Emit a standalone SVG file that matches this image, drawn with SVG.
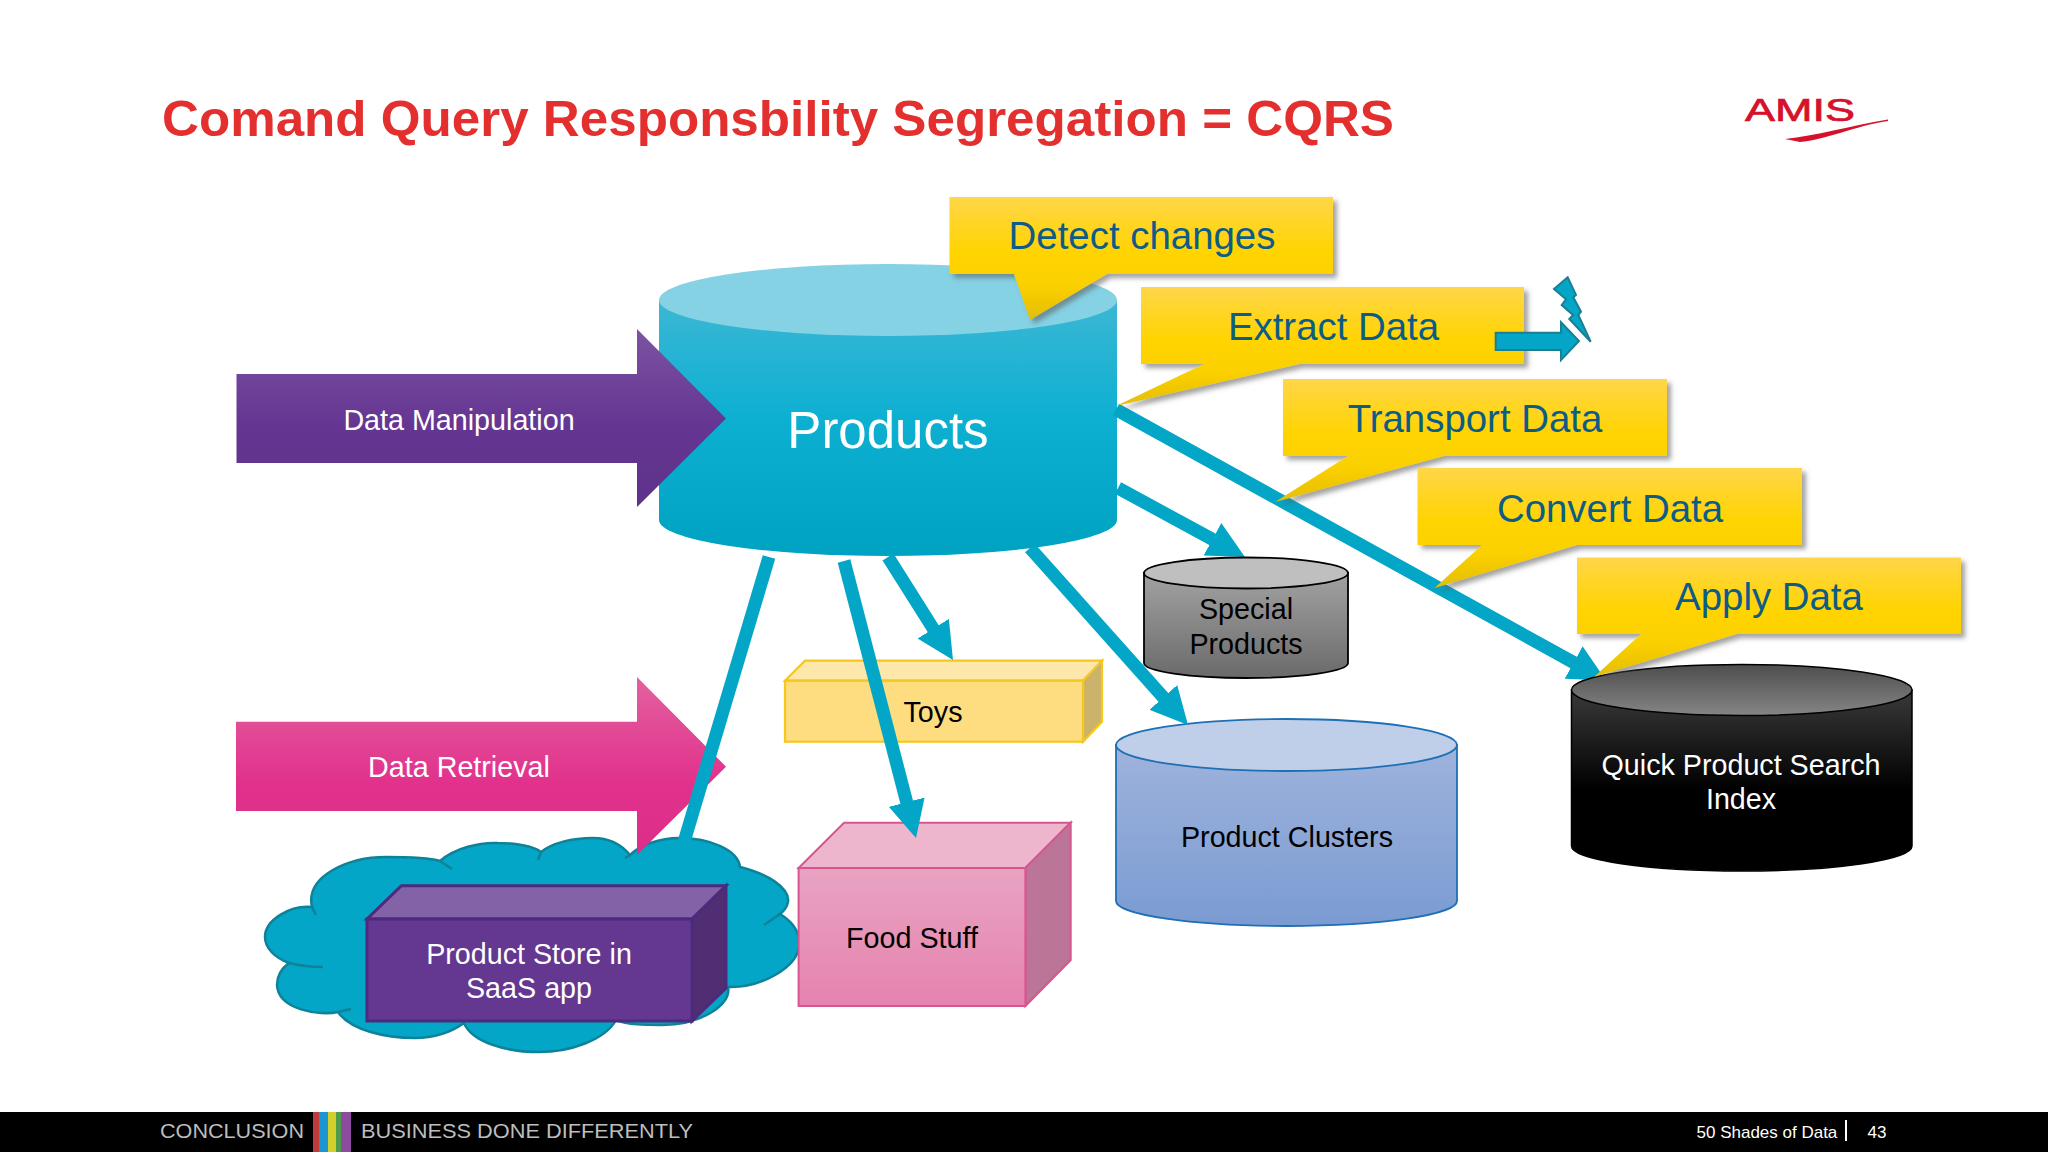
<svg xmlns="http://www.w3.org/2000/svg" width="2048" height="1152" viewBox="0 0 2048 1152">
<style>
text{font-family:"Liberation Sans",Arial,sans-serif;text-anchor:middle}
.lbl{font-size:28.7px}
.w{fill:#fff}
.k{fill:#000}
.co{font-size:38.4px;fill:#0d5c85}
.callout{fill:url(#gCallout);filter:url(#shadow)}
.conn{fill:none;stroke:#03a6c6;stroke-width:13;marker-end:url(#head)}
</style>
<defs>
<marker id="head" markerUnits="userSpaceOnUse" viewBox="0 0 37 37" refX="2" refY="18.5" markerWidth="37" markerHeight="37" orient="auto"><polygon points="0,0 37,18.5 0,37" fill="#03a6c6"/></marker>
<filter id="shadow" x="-10%" y="-10%" width="125%" height="125%"><feDropShadow dx="4" dy="4" stdDeviation="2.5" flood-color="#555" flood-opacity=".55"/></filter>
<linearGradient id="gCallout" x1="0" y1="0" x2="0" y2="1"><stop offset="0" stop-color="#ffd649"/><stop offset=".45" stop-color="#ffd400"/><stop offset=".72" stop-color="#fbd000"/><stop offset="1" stop-color="#e3bd0a"/></linearGradient>
<linearGradient id="gProd" x1="0" y1="0" x2="0" y2="1"><stop offset="0" stop-color="#3cb7d4"/><stop offset=".45" stop-color="#0eb0d2"/><stop offset="1" stop-color="#00a2c2"/></linearGradient>
<linearGradient id="gPur" x1="0" y1="0" x2="0" y2="1"><stop offset="0" stop-color="#7d53a2"/><stop offset=".55" stop-color="#643592"/><stop offset="1" stop-color="#5e3389"/></linearGradient>
<linearGradient id="gPink" x1="0" y1="0" x2="0" y2="1"><stop offset="0" stop-color="#e4619f"/><stop offset=".6" stop-color="#e1318c"/><stop offset="1" stop-color="#dc2e88"/></linearGradient>
<linearGradient id="gGray" x1="0" y1="0" x2="0" y2="1"><stop offset="0" stop-color="#a2a2a2"/><stop offset="1" stop-color="#6a6a6a"/></linearGradient>
<linearGradient id="gBlue" x1="0" y1="0" x2="0" y2="1"><stop offset="0" stop-color="#9fb3dc"/><stop offset="1" stop-color="#7a9bd2"/></linearGradient>
<linearGradient id="gBlack" x1="0" y1="0" x2="0" y2="1"><stop offset="0" stop-color="#3a3a3a"/><stop offset=".55" stop-color="#000"/><stop offset="1" stop-color="#000"/></linearGradient>
<linearGradient id="gTopK" x1="0" y1="0" x2="0" y2="1"><stop offset="0" stop-color="#4e4e4e"/><stop offset="1" stop-color="#858585"/></linearGradient>
<linearGradient id="gFood" x1="0" y1="0" x2="0" y2="1"><stop offset="0" stop-color="#e9a3c2"/><stop offset="1" stop-color="#e583ae"/></linearGradient>
</defs>
<rect width="2048" height="1152" fill="#fff"/>
<text x="162" y="136" font-size="50" font-weight="bold" fill="#e3302f" style="text-anchor:start" textLength="1232" lengthAdjust="spacingAndGlyphs">Comand Query Responsbility Segregation = CQRS</text>
<g id="logo"><text x="1800" y="121" font-size="32" fill="#d6112b" stroke="#d6112b" stroke-width=".7" textLength="110" lengthAdjust="spacingAndGlyphs">AMIS</text><path d="M1785,139C1815,136 1850,126 1888,119.500L1888,121C1855,126 1825,140 1800,142Z" fill="#d6112b"/></g>

<g id="products"><path d="M659,300V520A229 36 0 0 0 1117,520V300Z" fill="url(#gProd)"/><ellipse cx="888" cy="300" rx="229" ry="36" fill="#85d2e5"/><text x="888" y="448" font-size="51" class="w">Products</text></g>
<g id="data-manipulation"><polygon points="236.500,374 637,374 637,329 726,418.500 637,507 637,463 236.500,463" fill="url(#gPur)"/><text x="459" y="430" class="lbl w">Data Manipulation</text></g>
<g id="cloud"><path d="M312,907C305,875 350,857 386,857C410,857 430,858 440,861C455,848 480,842 498,843C515,843 533,846 541,852C552,843 572,838 593,838C607,838 620,843 630,855C640,845 660,838 679,838C710,838 738,850 740,867C768,874 790,888 788,902C787,907 784,911 780,914C793,922 800,933 799,945C798,968 760,988 728,987C732,1005 700,1025 662,1025C645,1025 628,1025 616,1020C605,1040 570,1052 539,1052C505,1052 472,1042 464,1023C450,1033 432,1038 415,1038C385,1038 350,1030 338,1012C320,1016 278,1010 277,985C277,975 282,968 289,963C275,958 265,948 265,937C265,920 290,905 312,907Z" fill="#03a6c6" stroke="#0e8299" stroke-width="2.500"/><path d="M440,861L452,869M541,852L538,860M630,855L625,858M780,914L764,925M338,1012L351,1009M289,963Q305,967 323,967M312,907L316,915" fill="none" stroke="#0e8299" stroke-width="2.500"/></g>
<g id="data-retrieval"><polygon points="236,721.700 637,721.700 637,677 726,766.700 637,855 637,811 236,811" fill="url(#gPink)"/><text x="459" y="777" class="lbl w">Data Retrieval</text></g>
<g id="toys"><polygon points="785,680.700 805,660.700 1102,660.700 1083,680.700" fill="#fee7aa" stroke="#f6c71c" stroke-width="2.200"/><polygon points="1083,680.700 1102,660.700 1102,721.700 1083,741.700" fill="#ccb36c" stroke="#f6c71c" stroke-width="2.200"/><rect x="785" y="680.700" width="298" height="61" fill="#fedc80" stroke="#f6c71c" stroke-width="2.200"/><text x="933" y="722" class="lbl k">Toys</text></g>
<g id="food-stuff"><polygon points="798.600,868 844,822.700 1070.700,822.700 1025.400,868" fill="#eeb6cd" stroke="#d9558f" stroke-width="2"/><polygon points="1025.400,868 1070.700,822.700 1070.700,960 1025.400,1006" fill="#bb7596" stroke="#d9558f" stroke-width="2"/><rect x="798.600" y="868" width="226.800" height="138" fill="url(#gFood)" stroke="#d9558f" stroke-width="2"/><text x="912" y="948" class="lbl k">Food Stuff</text></g>
<g id="product-clusters"><path d="M1116,745V901A170.500 25 0 0 0 1457,901V745Z" fill="url(#gBlue)" stroke="#1f6fb5" stroke-width="1.800"/><ellipse cx="1286.500" cy="745" rx="170.500" ry="26" fill="#bfcfea" stroke="#1f6fb5" stroke-width="1.800"/><text x="1287" y="847" class="lbl k">Product Clusters</text></g>

<g id="connectors">
<line x1="769" y1="557" x2="684" y2="842" fill="none" stroke="#03a6c6" stroke-width="13"/>
<line class="conn" x1="888" y1="557" x2="934.300" y2="630.400"/>
<line class="conn" x1="844" y1="561" x2="907.200" y2="804.100"/>
<line class="conn" x1="1030" y1="548" x2="1164.700" y2="698.900"/>
<line class="conn" x1="1118" y1="488" x2="1214.200" y2="540.300"/>
<line class="conn" x1="1116" y1="409.500" x2="1575.400" y2="663.500"/>
</g>

<g id="special-products"><path d="M1144,573V663A102 15 0 0 0 1348,663V573Z" fill="url(#gGray)" stroke="#000" stroke-width="1.800"/><ellipse cx="1246" cy="573" rx="102" ry="15.500" fill="#c0bfc0" stroke="#000" stroke-width="1.800"/><text x="1246" y="619" class="lbl k">Special</text><text x="1246" y="654" class="lbl k">Products</text></g>
<g id="quick-product-search-index"><path d="M1571.500,690V846A170.250 25 0 0 0 1912,846V690Z" fill="url(#gBlack)" stroke="#000" stroke-width="1.500"/><ellipse cx="1741.750" cy="690" rx="170.250" ry="25.500" fill="url(#gTopK)" stroke="#000" stroke-width="1.500"/><text x="1741" y="775" class="lbl w">Quick Product Search</text><text x="1741" y="809" class="lbl w">Index</text></g>
<g id="product-store"><polygon points="367,919 401.400,885.700 726,885.700 692,919" fill="#8462a8" stroke="#4c2a7c" stroke-width="3"/><polygon points="692,919 726,885.700 726,988 692,1021" fill="#512d73" stroke="#4c2a7c" stroke-width="3"/><rect x="367" y="919" width="325" height="102" fill="#643791" stroke="#4c2a7c" stroke-width="3"/><text x="529" y="964" class="lbl w">Product Store in</text><text x="529" y="998" class="lbl w">SaaS app</text></g>

<g id="detect-changes"><polygon class="callout" points="949.500,197 1333,197 1333,274 1107,274 1030,320 1014,274 949.500,274"/><text x="1142" y="249" class="co">Detect changes</text></g>
<g id="extract-data"><polygon class="callout" points="1141,287 1524,287 1524,364 1300,364 1116,406 1204,364 1141,364"/><text x="1333.500" y="340" class="co">Extract Data</text></g>
<g id="transport-data"><polygon class="callout" points="1283,379 1667,379 1667,456 1444,456 1275,502 1348,456 1283,456"/><text x="1475" y="432" class="co">Transport Data</text></g>
<g id="convert-data"><polygon class="callout" points="1417.500,468 1802,468 1802,545 1577,545 1434.500,588 1482,545 1417.500,545"/><text x="1610" y="521.500" class="co">Convert Data</text></g>
<g id="apply-data"><polygon class="callout" points="1577,557.500 1961,557.500 1961,634 1737,634 1594,677 1641,634 1577,634"/><text x="1769" y="610" class="co">Apply Data</text></g>
<g id="burst" fill="#03a6c6" stroke="#1a7f92" stroke-width="2"><polygon points="1567.700,277.300 1554,289 1566,299.300 1561.700,305 1573,315 1569.300,319 1590.700,341.700 1578.300,315 1581,311.700 1573.300,297.300 1576,295"/><polygon points="1495.700,332.700 1561,332.700 1561,322.300 1579,341 1561,360 1561,350 1495.700,350"/></g>

<g id="footer"><rect y="1112" width="2048" height="40" fill="#000"/>
<rect x="313" y="1112" width="6" height="40" fill="#c23a3a"/><rect x="319" y="1112" width="9" height="40" fill="#1a96d2"/><rect x="328" y="1112" width="8" height="40" fill="#d3cf2c"/><rect x="336" y="1112" width="5" height="40" fill="#4f9c4c"/><rect x="341" y="1112" width="10" height="40" fill="#8d4a9e"/>
<text x="160" y="1138" font-size="21" fill="#bdbdbd" style="text-anchor:start" textLength="144" lengthAdjust="spacingAndGlyphs">CONCLUSION</text>
<text x="361" y="1138" font-size="21" fill="#bdbdbd" style="text-anchor:start" textLength="332" lengthAdjust="spacingAndGlyphs">BUSINESS DONE DIFFERENTLY</text>
<text x="1696.500" y="1138" font-size="17" fill="#fff" style="text-anchor:start">50 Shades of Data</text>
<rect x="1845" y="1120" width="2" height="21" fill="#fff"/>
<text x="1867.500" y="1138" font-size="17" fill="#fff" style="text-anchor:start">43</text></g>
</svg>
